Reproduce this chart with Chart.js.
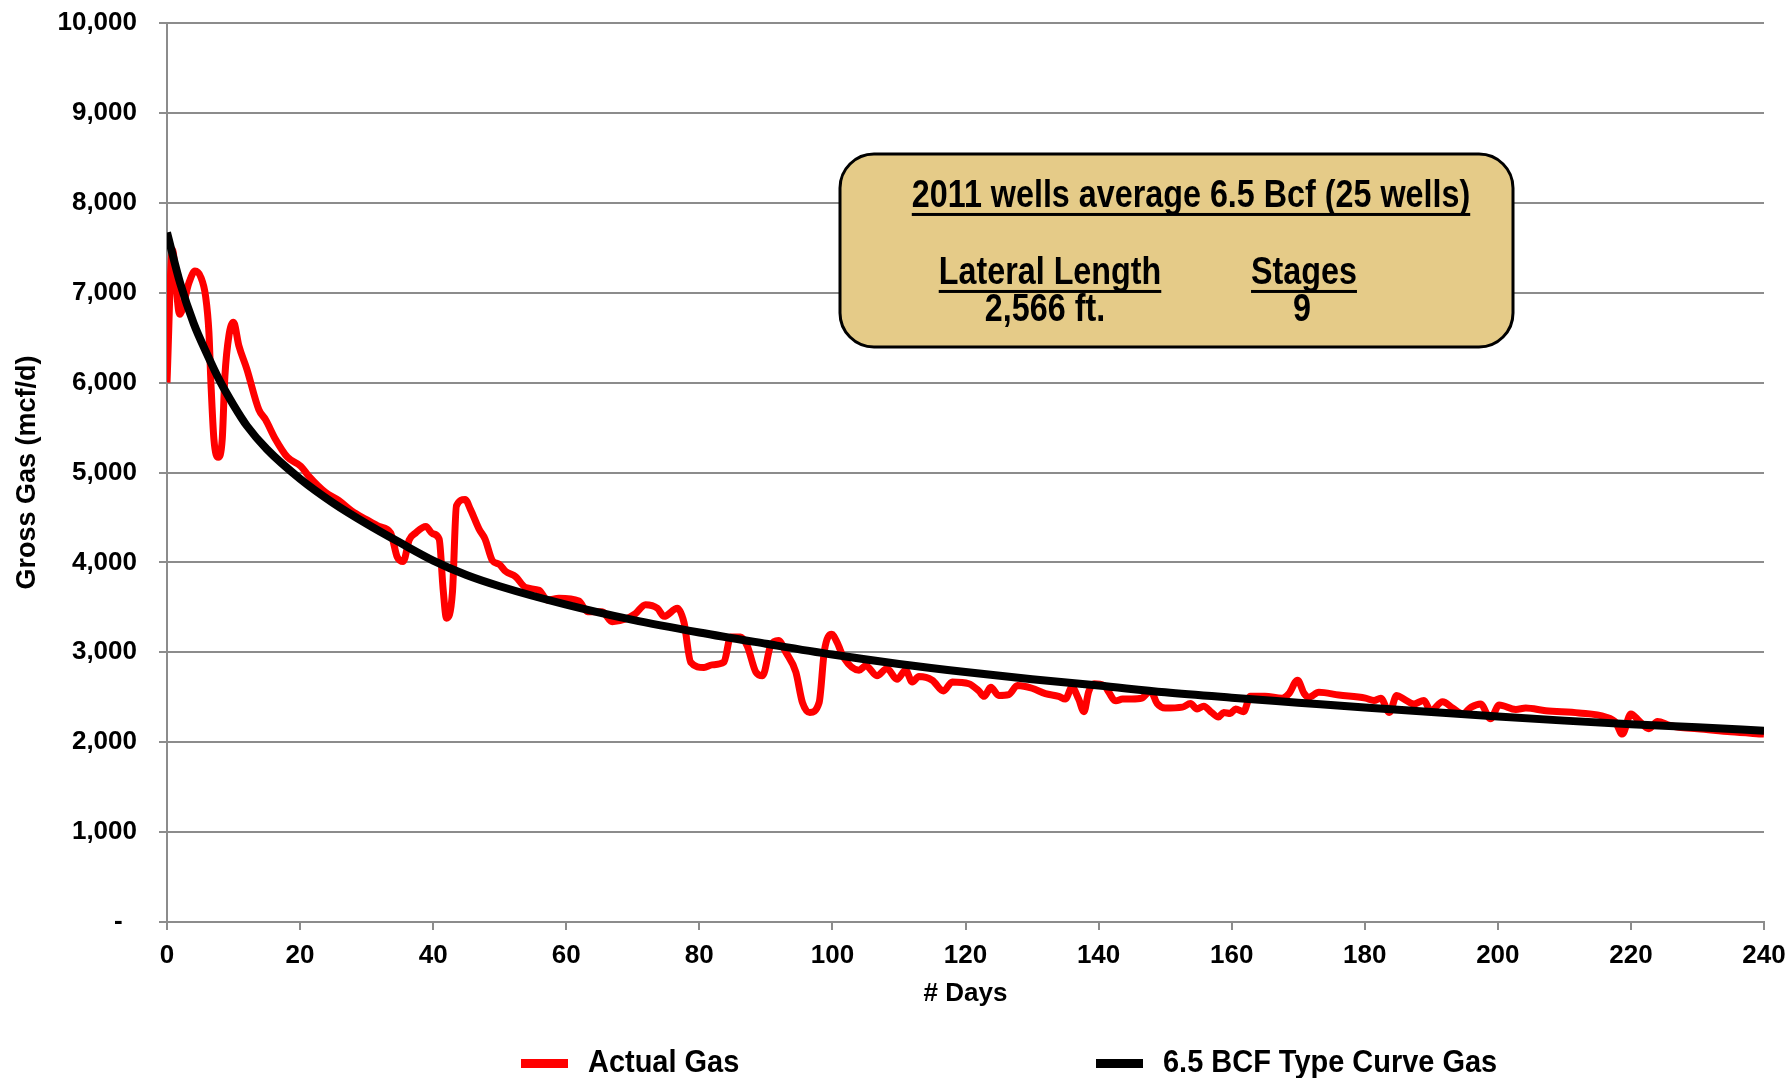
<!DOCTYPE html>
<html>
<head>
<meta charset="utf-8">
<script src="https://cdn.jsdelivr.net/npm/chart.js@4.4.0/dist/chart.umd.min.js"></script>
<style>
  html, body { margin: 0; padding: 0; background: #fff; }
</style>
</head>
<body>
<canvas id="gasChart" width="1791" height="1078"></canvas>
<script>
// actual gas (day, mcf/d)
const actualDays = [0, 0.8, 1.9, 3.3, 4.2, 5.1, 5.8, 6.3, 6.6, 7.05, 7.7, 8.3, 8.7, 9.3, 10, 10.8, 12, 13.8, 14.8, 16.3,
  18.1, 20.1, 21.3, 23.8, 25.8, 27.8, 29.9, 31.9, 33.6, 34.6, 35.5, 36.4, 37.4, 38.9, 39.9, 40.9, 41.5, 42, 42.9, 43.5,
  44.8, 45.6, 46.9, 47.8, 48.9, 49.9, 50.9, 52.4, 53.9, 55.9, 57.2, 58.9, 61.9, 63.2, 65.4, 66.9, 68.9, 70.4, 71.9, 73.7,
  74.7, 76.7, 77.7, 78.7, 80.7, 81.9, 83.7, 84.7, 86.2, 87.2, 88.5, 89.5, 90.7, 91.9, 93, 94.5, 95.5, 96.6, 98, 98.8,
  99.9, 100.7, 101.7, 104, 105, 106.7, 108.2, 109.7, 111, 112, 113, 115, 116.7, 118, 120.5, 122, 122.8, 123.8, 125, 126.5,
  127.8, 130, 132, 134, 135, 136, 137, 137.8, 138.5, 139.3, 140.8, 142.6, 143.6, 145, 146.5, 147.8, 148.8, 150, 152.6, 153.8,
  154.8, 155.8, 157, 158, 158.8, 159.8, 160.6, 161.8, 162.8, 165, 167.6, 168.6, 169.9, 170.9, 171.6, 173.1, 176.1, 180.1, 181.4, 182.4,
  183.7, 184.8, 185.9, 187.4, 188.9, 189.9, 191.7, 193.2, 194.7, 196, 197.4, 198.9, 200.2, 202.7, 204.2, 207.2, 212.2, 216.2, 217.7, 218.7,
  220, 221.2, 222.7, 224, 225.7, 227.2, 230, 235, 240];
const actualGas = [6000, 7480, 6760, 7110, 7240, 7170, 6960, 6560, 6000, 5370, 5170, 5370, 6070, 6520, 6670, 6410, 6150, 5700, 5590, 5370,
  5170, 5070, 4960, 4780, 4690, 4570, 4480, 4400, 4330, 4060, 4010, 4250, 4330, 4400, 4320, 4260, 3700, 3380, 3670, 4630,
  4700, 4590, 4370, 4260, 4020, 3980, 3900, 3840, 3720, 3690, 3580, 3600, 3570, 3450, 3450, 3340, 3370, 3430, 3530, 3490,
  3400, 3490, 3330, 2890, 2830, 2860, 2890, 3170, 3170, 3070, 2780, 2740, 3070, 3130, 3000, 2780, 2440, 2330, 2440, 3020,
  3200, 3110, 2940, 2800, 2850, 2740, 2820, 2700, 2800, 2670, 2730, 2690, 2570, 2670, 2650, 2570, 2510, 2610, 2520, 2530,
  2630, 2600, 2540, 2510, 2480, 2610, 2480, 2340, 2560, 2650, 2630, 2460, 2480, 2480, 2490, 2570, 2430, 2380, 2390, 2430,
  2370, 2400, 2330, 2280, 2330, 2320, 2370, 2340, 2510, 2510, 2490, 2540, 2690, 2540, 2500, 2555, 2525, 2490, 2465, 2490,
  2330, 2520, 2480, 2425, 2465, 2350, 2450, 2380, 2315, 2390, 2425, 2260, 2415, 2365, 2380, 2350, 2325, 2280, 2220, 2090,
  2315, 2240, 2150, 2230, 2190, 2165, 2150, 2115, 2090];

// type curve
const typeDays = [0, 2, 4, 6, 8, 10, 12, 15, 20, 25, 30, 35, 40, 45, 50, 60, 70, 80, 90, 100,
  110, 120, 130, 140, 150, 160, 170, 180, 190, 200, 210, 220, 230, 240];
const typeGas = [7670, 7100, 6660, 6320, 6010, 5750, 5520, 5260, 4930, 4660, 4430, 4220, 4020, 3860, 3735, 3530, 3360, 3220, 3095, 2975,
  2870, 2780, 2700, 2630, 2555, 2495, 2440, 2385, 2335, 2285, 2240, 2200, 2165, 2128];

const seriesNames = ['Actual Gas', '6.5 BCF Type Curve Gas'];
const boxTitle = '2011 wells average 6.5 Bcf (25 wells)';
const boxHeads = ['Lateral Length', 'Stages'];
const boxValues = ['2,566 ft.', '9'];

const FONT = '"Liberation Sans", Arial, sans-serif';
const GRID = '#8c8c8c';

function toPoints(xs, ys) {
  return xs.map((x, i) => ({x: x, y: ys[i]}));
}

// text squeezed sideways, like the narrow font in the original
function narrowText(ctx, text, cx, cy, size, squeeze, underline) {
  ctx.save();
  ctx.font = 'bold ' + size + 'px ' + FONT;
  const w = ctx.measureText(text).width;
  ctx.translate(cx, cy);
  ctx.scale(squeeze, 1);
  ctx.textAlign = 'center';
  ctx.textBaseline = 'middle';
  ctx.fillStyle = '#000';
  ctx.fillText(text, 0, 0);
  if (underline) {
    ctx.fillRect(-w / 2, size * 0.42, w, 3);
  }
  ctx.restore();
}

function roundRect(ctx, x, y, w, h, r) {
  ctx.beginPath();
  ctx.moveTo(x + r, y);
  ctx.arcTo(x + w, y, x + w, y + h, r);
  ctx.arcTo(x + w, y + h, x, y + h, r);
  ctx.arcTo(x, y + h, x, y, r);
  ctx.arcTo(x, y, x + w, y, r);
  ctx.closePath();
}

const extras = {
  id: 'extras',
  afterDraw(chart) {
    const ctx = chart.ctx;

    // info box
    ctx.save();
    roundRect(ctx, 840, 154, 673, 193, 34);
    ctx.fillStyle = '#e5cb88';
    ctx.fill();
    ctx.lineWidth = 3;
    ctx.strokeStyle = '#000';
    ctx.stroke();
    ctx.restore();
    narrowText(ctx, boxTitle, 1191, 197, 38, 0.85, true);
    narrowText(ctx, boxHeads[0], 1050, 274, 38, 0.85, true);
    narrowText(ctx, boxHeads[1], 1304, 274, 38, 0.85, true);
    narrowText(ctx, boxValues[0], 1045, 311, 38, 0.85, false);
    narrowText(ctx, boxValues[1], 1302, 311, 38, 0.85, false);

    // legend, spread out like the original
    const spots = [521, 1096];
    chart.data.datasets.forEach((ds, i) => {
      ctx.save();
      ctx.fillStyle = ds.borderColor;
      ctx.fillRect(spots[i], 1059, 47, 9);
      ctx.font = 'bold 32px ' + FONT;
      const w = ctx.measureText(ds.label).width;
      ctx.restore();
      narrowText(ctx, ds.label, spots[i] + 67 + w * 0.905 / 2, 1063, 32, 0.905, false);
    });
  }
};

new Chart(document.getElementById('gasChart'), {
  type: 'line',
  data: {
    datasets: [
      {
        label: seriesNames[0],
        data: toPoints(actualDays, actualGas),
        borderColor: '#ff0000',
        backgroundColor: '#ff0000',
        borderWidth: 7,
        pointRadius: 0,
        cubicInterpolationMode: 'monotone',
        order: 1
      },
      {
        label: seriesNames[1],
        data: toPoints(typeDays, typeGas),
        borderColor: '#000000',
        backgroundColor: '#000000',
        borderWidth: 8,
        pointRadius: 0,
        cubicInterpolationMode: 'monotone',
        order: 0
      }
    ]
  },
  options: {
    responsive: false,
    animation: false,
    devicePixelRatio: 1,
    layout: { padding: { top: 23, right: 27, bottom: 65, left: 0 } },
    plugins: {
      legend: { display: false },
      tooltip: { enabled: false }
    },
    scales: {
      x: {
        type: 'linear',
        min: 0,
        max: 240,
        ticks: {
          stepSize: 20,
          padding: 10,
          color: '#000',
          font: { family: FONT, size: 26, weight: 'bold' }
        },
        grid: { drawOnChartArea: false, tickLength: 8, color: GRID, lineWidth: 2 },
        border: { color: GRID, width: 2 },
        title: {
          display: true,
          text: '# Days',
          color: '#000',
          font: { family: FONT, size: 26, weight: 'bold' },
          padding: { top: 4, bottom: 4 }
        },
        afterFit(scale) {
          scale.height = 91;
          scale.paddingLeft = 0;
          scale.paddingRight = 0;
        }
      },
      y: {
        min: 0,
        max: 10000,
        ticks: {
          stepSize: 1000,
          padding: 22,
          color: '#000',
          font: { family: FONT, size: 26, weight: 'bold' },
          callback: v => v === 0 ? '-  ' : v.toLocaleString('en-US')
        },
        grid: { tickLength: 8, color: GRID, lineWidth: 2 },
        border: { color: GRID, width: 2 },
        title: {
          display: true,
          text: 'Gross Gas (mcf/d)',
          color: '#000',
          font: { family: FONT, size: 27, weight: 'bold' },
          padding: { top: 11, bottom: 4 }
        },
        afterFit(scale) {
          scale.width = 167;
          scale.paddingTop = 0;
          scale.paddingBottom = 0;
        }
      }
    }
  },
  plugins: [extras]
});
</script>
</body>
</html>
